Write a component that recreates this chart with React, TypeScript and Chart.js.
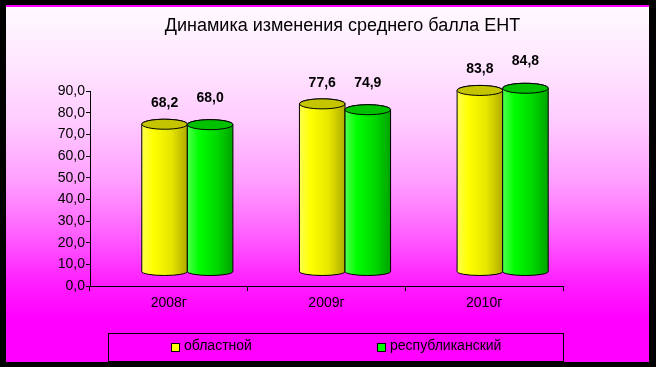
import React, { useEffect, useRef } from 'react';
import { Chart, registerables } from 'chart.js';

Chart.register(...registerables);

const TITLE = 'Динамика изменения среднего балла ЕНТ';
const CATEGORIES = ['2008г', '2009г', '2010г'];
const SERIES_NAMES = ['областной', 'республиканский'];
const REGIONAL = [68.2, 77.6, 83.8];
const REPUBLICAN = [68.0, 74.9, 84.8];
const Y_MIN = 0;
const Y_MAX = 90;
const Y_STEP = 10;

const FONT = 'Arial, "Liberation Sans", sans-serif';
const fmt = (v: number) => v.toFixed(1).replace('.', ',');

const STYLES = [
  { legend: '#ffff00', top: '#c4c400', body: ['#ffff50', '#ffff00', '#e6e600', '#b0ac00'], lift: 35 },
  { legend: '#00ff00', top: '#00c000', body: ['#50ff50', '#00ff00', '#00d800', '#00a400'], lift: 41 },
];
const DEPTH_X = 18.5;
const DEPTH_Y = -14;
const TOP_RY = 5;
const BOT_RY = 4;

function drawCylinder(ctx: CanvasRenderingContext2D, cx: number, topY: number, botY: number, rx: number, style: any) {
  const g = ctx.createLinearGradient(cx - rx, 0, cx + rx, 0);
  g.addColorStop(0, style.body[0]);
  g.addColorStop(0.25, style.body[1]);
  g.addColorStop(0.65, style.body[2]);
  g.addColorStop(1, style.body[3]);
  ctx.beginPath();
  ctx.moveTo(cx - rx, topY);
  ctx.lineTo(cx - rx, botY);
  ctx.ellipse(cx, botY, rx, BOT_RY, 0, Math.PI, 0, true);
  ctx.lineTo(cx + rx, topY);
  ctx.ellipse(cx, topY, rx, TOP_RY, 0, 0, Math.PI, true);
  ctx.closePath();
  ctx.fillStyle = g;
  ctx.fill();
  ctx.lineWidth = 1;
  ctx.strokeStyle = '#000';
  ctx.stroke();
  ctx.beginPath();
  ctx.ellipse(cx, topY, rx, TOP_RY, 0, 0, Math.PI * 2);
  ctx.fillStyle = style.top;
  ctx.fill();
  ctx.stroke();
}

const framePlugin = {
  id: 'frame',
  beforeDraw(chart: any) {
    const { ctx, width, height } = chart;
    ctx.save();
    ctx.fillStyle = '#000';
    ctx.fillRect(0, 0, width, height);
    const x0 = 6, y0 = 5, x1 = 649, y1 = 362;
    const g = ctx.createLinearGradient(0, y0, 0, y1);
    g.addColorStop(0, '#fffaff');
    g.addColorStop(0.15, '#ffe8ff');
    g.addColorStop(0.32, '#ffcdff');
    g.addColorStop(0.49, '#ffa0ff');
    g.addColorStop(0.63, '#ff66ff');
    g.addColorStop(0.77, '#ff22ff');
    g.addColorStop(0.88, '#ff00ff');
    g.addColorStop(1, '#ff00ff');
    ctx.fillStyle = g;
    ctx.fillRect(x0, y0, x1 - x0, y1 - y0);
    ctx.fillStyle = '#ff00ff';
    ctx.fillRect(x0, y0, x1 - x0, 2);
    ctx.restore();
  },
};

const cylinderPlugin = {
  id: 'cylinders',
  beforeDatasetsDraw(chart: any) {
    const ctx = chart.ctx as CanvasRenderingContext2D;
    ctx.save();
    const labels: any[] = [];
    chart.data.datasets.forEach((ds: any, di: number) => {
      const meta = chart.getDatasetMeta(di);
      const style = STYLES[di];
      meta.data.forEach((el: any, i: number) => {
        const p = el.getProps(['x', 'y', 'base', 'width'], true);
        const cx = p.x + DEPTH_X;
        const rx = p.width / 2;
        drawCylinder(ctx, cx, p.y + DEPTH_Y, p.base + DEPTH_Y, rx, style);
        labels.push({ x: cx, y: p.y - style.lift, text: fmt(ds.data[i]) });
      });
    });
    ctx.fillStyle = '#000';
    ctx.font = 'bold 14px ' + FONT;
    ctx.textAlign = 'center';
    ctx.textBaseline = 'middle';
    labels.forEach((l) => ctx.fillText(l.text, l.x, l.y));
    ctx.restore();
    return false;
  },
};

const LEG = { x: 108, y: 333, w: 455, h: 28, box: 8, gap: 5, shift: -10 };

const legendPlugin = {
  id: 'boxLegend',
  afterDraw(chart: any) {
    const ctx = chart.ctx as CanvasRenderingContext2D;
    ctx.save();
    ctx.strokeStyle = '#000';
    ctx.lineWidth = 1;
    ctx.strokeRect(LEG.x + 0.5, LEG.y + 0.5, LEG.w, LEG.h);
    ctx.font = '14px ' + FONT;
    ctx.textBaseline = 'middle';
    ctx.textAlign = 'left';
    const n = chart.data.datasets.length;
    const slot = LEG.w / n;
    const cy = LEG.y + 13.5;
    chart.data.datasets.forEach((ds: any, i: number) => {
      const tw = ctx.measureText(ds.label).width;
      const itemW = LEG.box + LEG.gap + tw;
      const sx = Math.round(LEG.x + slot * i + (slot - itemW) / 2 + LEG.shift);
      ctx.fillStyle = STYLES[i].legend;
      ctx.fillRect(sx + 0.5, Math.round(cy - LEG.box / 2) + 0.5, LEG.box, LEG.box);
      ctx.strokeRect(sx + 0.5, Math.round(cy - LEG.box / 2) + 0.5, LEG.box, LEG.box);
      ctx.fillStyle = '#000';
      ctx.fillText(ds.label, sx + LEG.box + LEG.gap, cy);
    });
    ctx.restore();
  },
};

export default function App() {
  const ref = useRef<HTMLCanvasElement>(null);
  useEffect(() => {
    document.body.style.margin = '0';
    document.body.style.background = '#000';
    const canvas = ref.current!;
    const chart = new Chart(canvas, {
      type: 'bar',
      data: {
        labels: CATEGORIES,
        datasets: [
          { label: SERIES_NAMES[0], data: REGIONAL, backgroundColor: STYLES[0].legend },
          { label: SERIES_NAMES[1], data: REPUBLICAN, backgroundColor: STYLES[1].legend },
        ],
      },
      options: {
        responsive: false,
        animation: false,
        devicePixelRatio: 1,
        layout: { padding: { left: 29, right: 0, top: 0, bottom: 0 } },
        datasets: { bar: { categoryPercentage: 0.578, barPercentage: 1 } },
        plugins: {
          legend: { display: false },
          tooltip: { enabled: false },
          title: {
            display: true,
            text: TITLE,
            color: '#000',
            font: { family: FONT, size: 18, weight: 'normal', lineHeight: 1.2 },
            padding: { top: 15, bottom: 54.4 },
          },
        },
        scales: {
          x: {
            grid: { drawOnChartArea: false, drawTicks: true, tickLength: 5, color: '#000', offset: true },
            border: { display: true, color: '#000', width: 1 },
            ticks: { color: '#000', font: { family: FONT, size: 14 }, padding: 4 },
            afterFit: (s: any) => { s.height = 81; },
          },
          y: {
            min: Y_MIN,
            max: Y_MAX,
            grid: { drawOnChartArea: false, drawTicks: true, tickLength: 4, color: '#000' },
            border: { display: true, color: '#000', width: 1 },
            ticks: {
              stepSize: Y_STEP,
              color: '#000',
              font: { family: FONT, size: 14 },
              padding: 1,
              callback: (v: any) => fmt(Number(v)),
            },
            afterFit: (s: any) => { s.width = 61; },
          },
          yR: {
            type: 'linear',
            position: 'right',
            display: true,
            grid: { display: false },
            border: { display: false },
            ticks: { display: false },
            afterFit: (s: any) => { s.width = 93; },
          },
        },
      },
      plugins: [framePlugin, cylinderPlugin, legendPlugin],
    } as any);
    return () => chart.destroy();
  }, []);
  return <canvas ref={ref} width={656} height={367} style={{ display: 'block' }} />;
}
